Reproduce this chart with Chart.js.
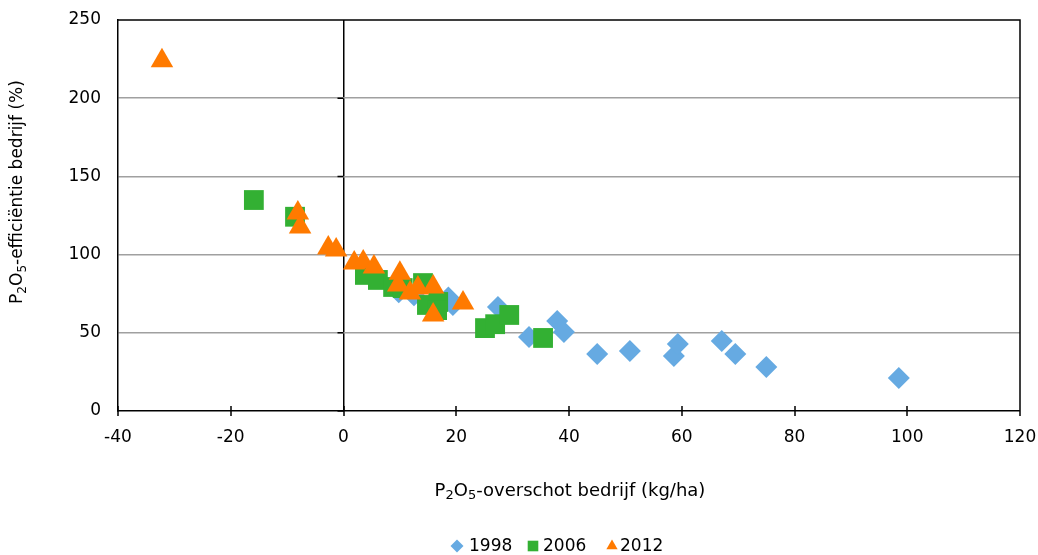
<!DOCTYPE html>
<html>
<head>
<meta charset="utf-8">
<script src="https://cdn.jsdelivr.net/npm/chart.js@4"></script>
<style>
html,body{margin:0;padding:0;background:#fff;}
#wrap{width:1038px;height:555px;position:relative;}
</style>
</head>
<body>
<div id="wrap"><canvas id="c" width="1038" height="555"></canvas></div>
<script>
const seriesNames = ['1998', '2006', '2012'];
const seriesColors = ['#66aae2', '#33b033', '#ff7a00'];
const xTicks = [-40, -20, 0, 20, 40, 60, 80, 100, 120];
const yTicks = [0, 50, 100, 150, 200, 250];
const xTitleParts = [['P', 0], ['2', 1], ['O', 0], ['5', 1], ['-overschot bedrijf (kg/ha)', 0]];
const yTitleParts = [['P', 0], ['2', 1], ['O', 0], ['5', 1], ['-effici\u00ebntie bedrijf (%)', 0]];

const x1998 = [9.8, 12.5, 18.6, 19.4, 27.4, 32.9, 37.9, 39.1, 45.0, 50.8, 58.6, 59.3, 67.1, 69.5, 75.0, 98.5];
const y1998 = [76, 74, 72.5, 67.8, 66.5, 47.3, 57.5, 50.5, 36.4, 38.4, 35.2, 42.8, 44.8, 36.4, 28.1, 21.1];

const x2006 = [-15.9, -8.6, 3.8, 6.1, 8.8, 10.5, 14.1, 14.8, 16.8, 16.6, 25.1, 26.9, 29.4, 35.4];
const y2006 = [134.9, 124.2, 87, 83.8, 79.3, 78.6, 81.8, 67.8, 69.7, 64.5, 53, 55.5, 61.4, 46.7];

const x2012 = [-32.2, -8.1, -7.7, -2.7, -1.3, 1.9, 3.5, 5.4, 10.0, 9.7, 11.8, 13.2, 15.9, 15.9, 21.2];
const y2012 = [224, 126.6, 117.6, 104.2, 103, 94.6, 95.3, 92, 88, 80.6, 75.4, 78.6, 79.3, 61.4, 69];

function pts(xs, ys){ return xs.map((x,i)=>({x:x, y:ys[i]})); }

const FONT = '"DejaVu Sans", Verdana, sans-serif';
const FS = 17;

function partsWidth(ctx, parts, fs, sub){
  let w = 0;
  parts.forEach(([t, s])=>{ ctx.font = (s ? sub : fs) + 'px ' + FONT; w += ctx.measureText(t).width; });
  return w;
}
function drawParts(ctx, parts, cx, cy, fs, sub){
  const w = partsWidth(ctx, parts, fs, sub);
  let x = cx - w / 2;
  ctx.textBaseline = 'middle';
  ctx.textAlign = 'left';
  parts.forEach(([t, s])=>{
    ctx.font = (s ? sub : fs) + 'px ' + FONT;
    ctx.fillText(t, x, cy + (s ? 5 : 0));
    x += ctx.measureText(t).width;
  });
}

new Chart(document.getElementById('c'), {
  type: 'scatter',
  data: {
    datasets: [
      {label: seriesNames[0], data: pts(x1998, y1998), pointStyle: 'rectRot', pointRadius: 11, pointHoverRadius: 11,
       backgroundColor: seriesColors[0], borderColor: seriesColors[0], borderWidth: 0, order: 3},
      {label: seriesNames[1], data: pts(x2006, y2006), pointStyle: 'rect', pointRadius: 14, pointHoverRadius: 14,
       backgroundColor: seriesColors[1], borderColor: seriesColors[1], borderWidth: 0, order: 2},
      {label: seriesNames[2], data: pts(x2012, y2012), pointStyle: 'triangle', pointRadius: 13, pointHoverRadius: 13,
       backgroundColor: seriesColors[2], borderColor: seriesColors[2], borderWidth: 0, order: 1}
    ]
  },
  options: {
    responsive: false,
    animation: false,
    events: [],
    layout: {padding: {top: 20, right: 18, left: 0, bottom: 0}},
    plugins: {
      legend: {display: false},
      tooltip: {enabled: false}
    },
    scales: {
      x: {
        type: 'linear',
        min: -40, max: 120,
        afterBuildTicks: (s)=>{ s.ticks = xTicks.map(v=>({value:v})); },
        afterFit: (s)=>{ s.height = 555 - 411; s.paddingLeft = 0; s.paddingRight = 0; },
        grid: {
          drawOnChartArea: true,
          color: (ctx)=> (ctx.tick && ctx.tick.value === 0) ? '#000' : 'rgba(0,0,0,0)',
          lineWidth: (ctx)=> (ctx.tick && ctx.tick.value === 0) ? 1.5 : 0,
          drawTicks: false
        },
        border: {display: true, color: '#000', width: 1.5},
        ticks: {color: '#000', font: {family: FONT, size: FS}, padding: 16, maxRotation: 0},
        title: {display: false}
      },
      y: {
        type: 'linear',
        min: 0, max: 250,
        afterBuildTicks: (s)=>{ s.ticks = yTicks.map(v=>({value:v})); },
        afterFit: (s)=>{ s.width = 118; s.paddingTop = 0; s.paddingBottom = 0; },
        grid: {
          color: (ctx)=> (ctx.tick && (ctx.tick.value === 0 || ctx.tick.value === 250)) ? 'rgba(0,0,0,0)' : '#a0a0a0',
          lineWidth: 1.5,
          drawTicks: false
        },
        border: {display: true, color: '#000', width: 1.5},
        ticks: {color: '#000', font: {family: FONT, size: FS}, padding: 17},
        title: {display: false}
      }
    }
  },
  plugins: [{
    id: 'frame',
    beforeDatasetsDraw(chart){
      const a = chart.chartArea, ctx = chart.ctx;
      const xs = chart.scales.x, ys = chart.scales.y;
      ctx.save();
      ctx.strokeStyle = '#000';
      ctx.lineWidth = 1.5;
      ctx.beginPath();
      ctx.moveTo(a.left, a.top); ctx.lineTo(a.right, a.top); ctx.lineTo(a.right, a.bottom);
      xTicks.forEach(v=>{ const px = Math.round(xs.getPixelForValue(v)); ctx.moveTo(px, a.bottom - 5); ctx.lineTo(px, a.bottom + 5); });
      const zx = xs.getPixelForValue(0);
      yTicks.forEach(v=>{ const py = ys.getPixelForValue(v); ctx.moveTo(zx - 6, py); ctx.lineTo(zx, py); });
      ctx.stroke();
      ctx.restore();
    },
    afterDraw(chart){
      const ctx = chart.ctx, a = chart.chartArea;
      ctx.save();
      ctx.fillStyle = '#000';
      drawParts(ctx, xTitleParts, 570, 491, 18, 13);
      ctx.save();
      ctx.translate(18, 192);
      ctx.rotate(-Math.PI / 2);
      drawParts(ctx, yTitleParts, 0, 0, 17, 12);
      ctx.restore();
      // legend
      const cy = 546;
      const styles = ['rectRot', 'rect', 'triangle'];
      const radii = [6.5, 7.5, 6.5];
      const markX = [457, 533, 612];
      const textX = [469, 543, 620];
      ctx.font = FS + 'px ' + FONT;
      ctx.textBaseline = 'middle';
      ctx.textAlign = 'left';
      seriesNames.forEach((name, i)=>{
        ctx.fillStyle = seriesColors[i];
        Chart.helpers.drawPoint(ctx, {pointStyle: styles[i], radius: radii[i], borderWidth: 0, rotation: 0}, markX[i], cy);
        ctx.fillStyle = '#000';
        ctx.fillText(name, textX[i], cy + 1);
      });
      ctx.restore();
    }
  }]
});
</script>
</body>
</html>
